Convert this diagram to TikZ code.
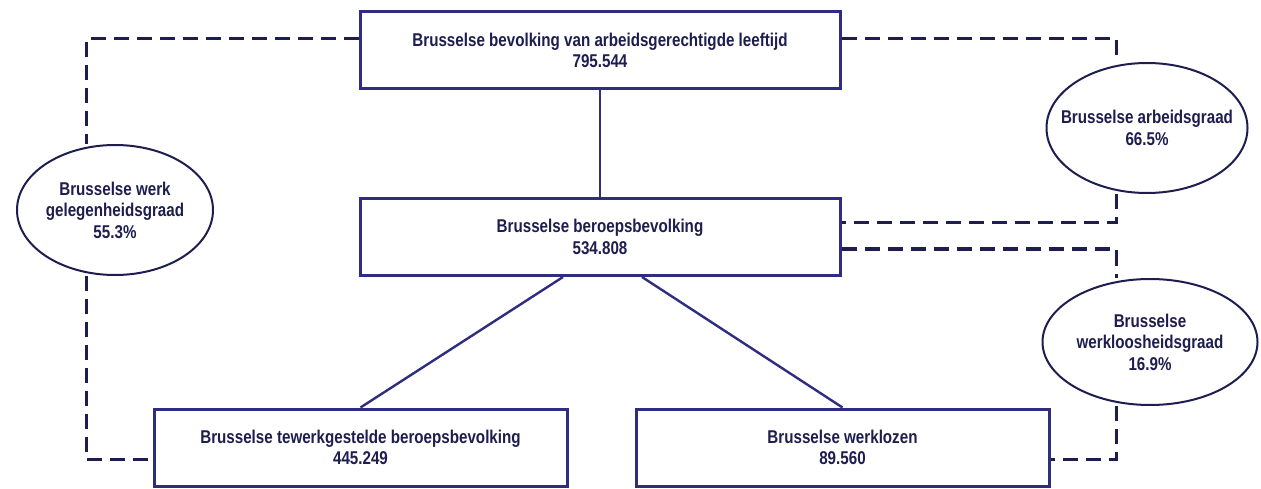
\documentclass[tikz,border=0pt]{standalone}
\usepackage{fontspec}
\setmainfont{Liberation Sans}[FakeStretch=0.82]
\usetikzlibrary{shapes.geometric}
\definecolor{cnavy}{HTML}{2E2D80}
\definecolor{cink}{HTML}{1D1D4F}
\tikzset{
  every picture/.style={font=\fontsize{18.5}{21.5}\selectfont\bfseries, text=cink},
  box/.style={draw=cnavy, line width=3pt, fill=white, align=center, minimum width=#1, minimum height=77pt, inner sep=0pt},
  box/.default=480pt,
  rate/.style={ellipse, draw=cink, line width=2pt, align=center, inner sep=0pt},
  link/.style={draw=cnavy, line width=2.4pt},
  dashlink/.style={draw=cink, line width=3pt, dash pattern=on 15pt off 8pt},
}

\begin{document}
\begin{tikzpicture}[x=1pt, y=-1pt]
  \useasboundingbox (0,0) rectangle (1261,489);
  % boxes
  \node[box] (top) at (600,50.5) {Brusselse bevolking van arbeidsgerechtigde leeftijd\\795.544};
  \node[box] (labour) at (600,237) {Brusselse beroepsbevolking\\534.808};
  \node[box=413pt] (employed) at (360.5,447.5) {Brusselse tewerkgestelde beroepsbevolking\\445.249};
  \node[box=413pt] (unemp) at (842.5,447.5) {Brusselse werklozen\\89.560};
  % rates
  \node[rate, minimum width=196pt, minimum height=130pt] (lrate) at (115,210) {Brusselse werk\\gelegenheidsgraad\\55.3\%};
  \node[rate, minimum width=201pt, minimum height=130pt, inner xsep=-16pt] (arate) at (1147,128) {Brusselse arbeidsgraad\\66.5\%};
  \node[rate, minimum width=215pt, minimum height=126pt] (urate) at (1150,342) {Brusselse\\werkloosheidsgraad\\16.9\%};
  % tree
  \draw[link] (top.south) -- (labour.north);
  \draw[link] ([xshift=-37pt]labour.south) -- (employed.north);
  \draw[link] ([xshift=42pt]labour.south) -- (unemp.north);
  % dashed connectors
  \draw[dashlink] ([yshift=12pt]top.west) -| ([xshift=-29pt]lrate.north);
  \draw[dashlink] ([xshift=-29pt]lrate.south) |- ([yshift=-12pt]employed.west);
  \draw[dashlink] ([yshift=12pt]top.east) -| ([xshift=-31pt]arate.north);
  \draw[dashlink] ([xshift=-31pt]arate.south) |- ([yshift=14pt]labour.east);
  \draw[dashlink] ([yshift=-12pt]labour.east) -| ([xshift=-34pt]urate.north);
  \draw[dashlink] ([xshift=-34pt]urate.south) |- ([yshift=-12pt]unemp.east);
\end{tikzpicture}
\end{document}
